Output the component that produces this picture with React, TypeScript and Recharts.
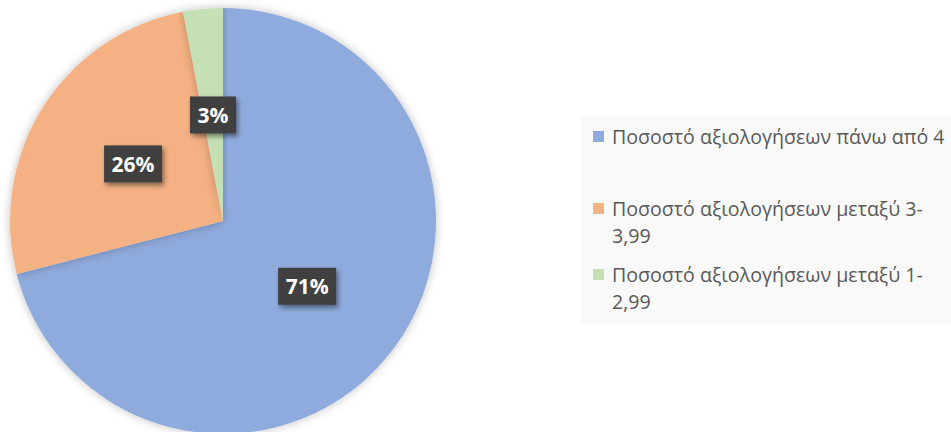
import { Cell, Legend, Pie, PieChart } from "recharts";

const categories = [
  "Ποσοστό αξιολογήσεων πάνω από 4",
  "Ποσοστό αξιολογήσεων μεταξύ 3-3,99",
  "Ποσοστό αξιολογήσεων μεταξύ 1-2,99",
];
const shares = [71, 26, 3];
const colors = ["#8FAADC", "#F4B183", "#C5E0B4"];

const data = categories.map((name, i) => ({ name, value: shares[i] }));

const RADIAN = Math.PI / 180;

function renderLabel(props: any) {
  const { cx, cy, midAngle, outerRadius, value } = props;
  const r = outerRadius * 0.5;
  const x = cx + r * Math.cos(-midAngle * RADIAN);
  const y = cy + r * Math.sin(-midAngle * RADIAN);
  const text = `${value}%`;
  const w = 22 + 12 * text.length;
  const h = 37;
  return (
    <g>
      <rect x={x - w / 2} y={y - h / 2} width={w} height={h} fill="#404040" filter="url(#boxShadow)" />
      <text
        x={x}
        y={y}
        fill="#ffffff"
        textAnchor="middle"
        dominantBaseline="central"
        fontFamily="'Open Sans', sans-serif"
        fontWeight={700}
        fontSize={21}
      >
        {text}
      </text>
    </g>
  );
}

const itemHeights = [72, 66, 54];

function LegendContent() {
  return (
    <div
      style={{
        width: 370,
        height: 206,
        background: "#f9f9f9",
        paddingTop: 6,
        boxSizing: "border-box",
        fontFamily: "'Open Sans', sans-serif",
        fontSize: 19.6,
        color: "#595959",
      }}
    >
      {data.map((d, i) => (
        <div key={d.name} style={{ display: "flex", alignItems: "flex-start", height: itemHeights[i], paddingLeft: 12 }}>
          <span style={{ width: 11, height: 11, background: colors[i], marginTop: 8, marginRight: 8, flexShrink: 0 }} />
          <span style={{ width: 338, lineHeight: "27px" }}>{d.name}</span>
        </div>
      ))}
    </div>
  );
}

export default function App() {
  return (
    <div style={{ position: "absolute", left: 0, top: 0, width: 951, height: 432, background: "#ffffff" }}>
      <PieChart width={951} height={432} margin={{ top: 0, right: 0, bottom: 0, left: 0 }}>
        <defs>
          <filter id="pieShadow" x="-10%" y="-10%" width="120%" height="120%">
            <feDropShadow dx="0" dy="0" stdDeviation="5" floodColor="#000" floodOpacity="0.25" />
          </filter>
          <filter id="boxShadow" x="-30%" y="-30%" width="160%" height="160%">
            <feDropShadow dx="2" dy="3" stdDeviation="2.5" floodColor="#000" floodOpacity="0.45" />
          </filter>
        </defs>
        <Pie
          data={data}
          dataKey="value"
          nameKey="name"
          cx={223}
          cy={221}
          outerRadius={213}
          startAngle={90}
          endAngle={-270}
          stroke="none"
          labelLine={false}
          label={renderLabel}
          isAnimationActive={false}
          style={{ filter: "url(#pieShadow)" }}
        >
          {data.map((d, i) => (
            <Cell key={d.name} fill={colors[i]} />
          ))}
        </Pie>
        <Legend
          layout="vertical"
          align="right"
          verticalAlign="top"
          content={<LegendContent />}
          wrapperStyle={{ left: 581, top: 117, width: 370, height: 206 }}
        />
      </PieChart>
    </div>
  );
}
